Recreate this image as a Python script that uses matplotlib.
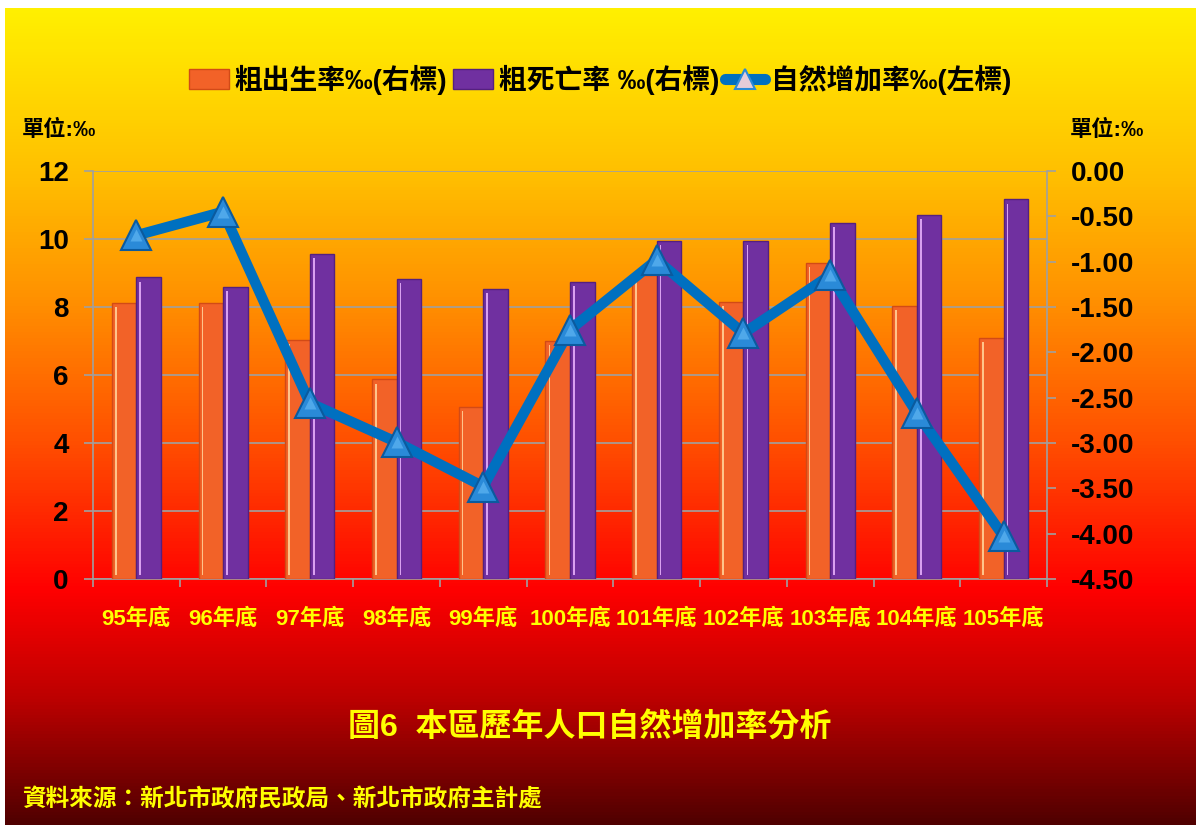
import numpy as np
import matplotlib
matplotlib.use('Agg')
import matplotlib.pyplot as plt
from matplotlib.colors import LinearSegmentedColormap
from matplotlib.patches import Patch
from matplotlib.lines import Line2D

plt.rcParams['font.family'] = ['Liberation Sans', 'Noto Sans CJK TC', 'DejaVu Sans']
plt.rcParams['font.weight'] = 'bold'

# dados
anos = ['95年底', '96年底', '97年底', '98年底', '99年底', '100年底',
        '101年底', '102年底', '103年底', '104年底', '105年底']
natalidade = [8.13, 8.13, 7.03, 5.87, 5.07, 7.00, 8.94, 8.15, 9.30, 8.04, 7.10]
mortalidade = [8.87, 8.60, 9.56, 8.83, 8.54, 8.75, 9.94, 9.94, 10.48, 10.71, 11.17]
crescimento = [-0.71, -0.45, -2.56, -2.99, -3.48, -1.75, -0.98, -1.79, -1.15, -2.67, -4.03]

legendas = ['粗出生率‰(右標)', '粗死亡率 ‰(右標)', '自然增加率‰(左標)']

W, H = 1196, 825
fig = plt.figure(figsize=(W / 100, H / 100), dpi=100)

# fundo em degradê (amarelo -> vermelho -> vinho)
cores = [(0.0, '#FFF200'), (8 / H, '#FFF000'), (171 / H, '#FFC000'), (300 / H, '#FF9000'),
         (440 / H, '#FF5000'), (590 / H, '#FF0000'), (700 / H, '#BC0000'), (1.0, '#500000')]
cmap = LinearSegmentedColormap.from_list('fundo', cores)
grad = cmap(np.linspace(0, 1, H))[:, :3]
img = np.repeat(grad[:, None, :], W, axis=1)
img[:8, :, :] = 1.0
img[:, :5, :] = 1.0
bg = fig.add_axes([0, 0, 1, 1])
bg.imshow(img, aspect='auto', extent=(0, 1, 0, 1))
bg.axis('off')

ax = fig.add_axes([93 / W, 246 / H, 954 / W, 408 / H])
ax.patch.set_alpha(0)

x = np.arange(len(anos))
w = 0.283
cinza = '#A0A0A0'

ax.bar(x - w / 2, natalidade, w, color='#F26228', edgecolor='#D24A16', linewidth=1, zorder=3)
ax.bar(x + w / 2, mortalidade, w, color='#7030A0', edgecolor='#55207F', linewidth=1, zorder=3)
# brilho lateral das barras
ax.bar(x - w + 0.045, np.array(natalidade) - 0.25, 0.018, bottom=0.12, color='#FFC48A', zorder=4)
ax.bar(x + 0.045, np.array(mortalidade) - 0.25, 0.018, bottom=0.12, color='#D9A0F0', zorder=4)

ax.set_xlim(-0.5, len(anos) - 0.5)
ax.set_ylim(0, 12)
ax.set_yticks(np.arange(0, 13, 2))
ax.grid(axis='y', color=cinza, linewidth=1.2, zorder=1)
ax.set_axisbelow(True)
for s in ['top', 'right']:
    ax.spines[s].set_visible(False)
for s in ['left', 'bottom']:
    ax.spines[s].set_color(cinza)
    ax.spines[s].set_linewidth(1.2)

ax.tick_params(axis='y', length=6.5, color=cinza, width=1.2, labelsize=20, pad=11)
ax.set_xticks(x)
ax.set_xticklabels(anos)
ax.tick_params(axis='x', which='major', length=0, labelsize=16, labelcolor='#FFFF00', pad=21)
ax.set_xticks(np.arange(-0.5, len(anos), 1), minor=True)
ax.tick_params(axis='x', which='minor', length=6, color=cinza, width=1.2)

ax2 = ax.twinx()
ax2.set_ylim(-4.5, 0)
ax2.set_yticks(np.arange(-4.5, 0.01, 0.5))
ax2.set_yticklabels(['%.2f' % v for v in np.arange(-4.5, 0.01, 0.5)])
for s in ['top', 'left', 'bottom']:
    ax2.spines[s].set_visible(False)
ax2.spines['right'].set_color(cinza)
ax2.spines['right'].set_linewidth(1.2)
ax2.tick_params(axis='y', length=6.5, color=cinza, width=1.2, labelsize=20, pad=11)

ax2.plot(x, crescimento, color='#0070C0', linewidth=7.5, marker='^', markersize=22,
         markerfacecolor='#2A8AD8', markeredgecolor='#0B5A9E', markeredgewidth=1.5, zorder=5)
ax2.plot(x, crescimento, linestyle='none', marker='^', markersize=9,
         markerfacecolor='#4FA8EA', markeredgecolor='none', zorder=6)

handles = [Patch(facecolor='#F26228', edgecolor='#D24A16'),
           Patch(facecolor='#7030A0', edgecolor='#55207F'),
           Line2D([0], [0], color='#0070C0', linewidth=8, solid_capstyle='round', marker='^',
                  markersize=15, markerfacecolor='#E6CCD8', markeredgecolor='#2A8AD8',
                  markeredgewidth=1.5)]
fig.legend(handles, legendas, loc='center', bbox_to_anchor=(600 / W, 1 - 80 / H), ncol=3,
           frameon=False, fontsize=20, handlelength=1.45, handleheight=0.72,
           handletextpad=0.2, columnspacing=0.2, borderaxespad=0)

fig.text(22 / W, 1 - 130 / H, '單位:‰', fontsize=16, va='center', ha='left')
fig.text(1070 / W, 1 - 130 / H, '單位:‰', fontsize=16, va='center', ha='left')

fig.text(590 / W, 1 - 727 / H, '圖6  本區歷年人口自然增加率分析', fontsize=23, color='#FFFF00',
         ha='center', va='center')
fig.text(22 / W, 1 - 800 / H, '資料來源：新北市政府民政局、新北市政府主計處', fontsize=17,
         color='#FFFF00', ha='left', va='center')

fig.savefig('out.png', dpi=100)
